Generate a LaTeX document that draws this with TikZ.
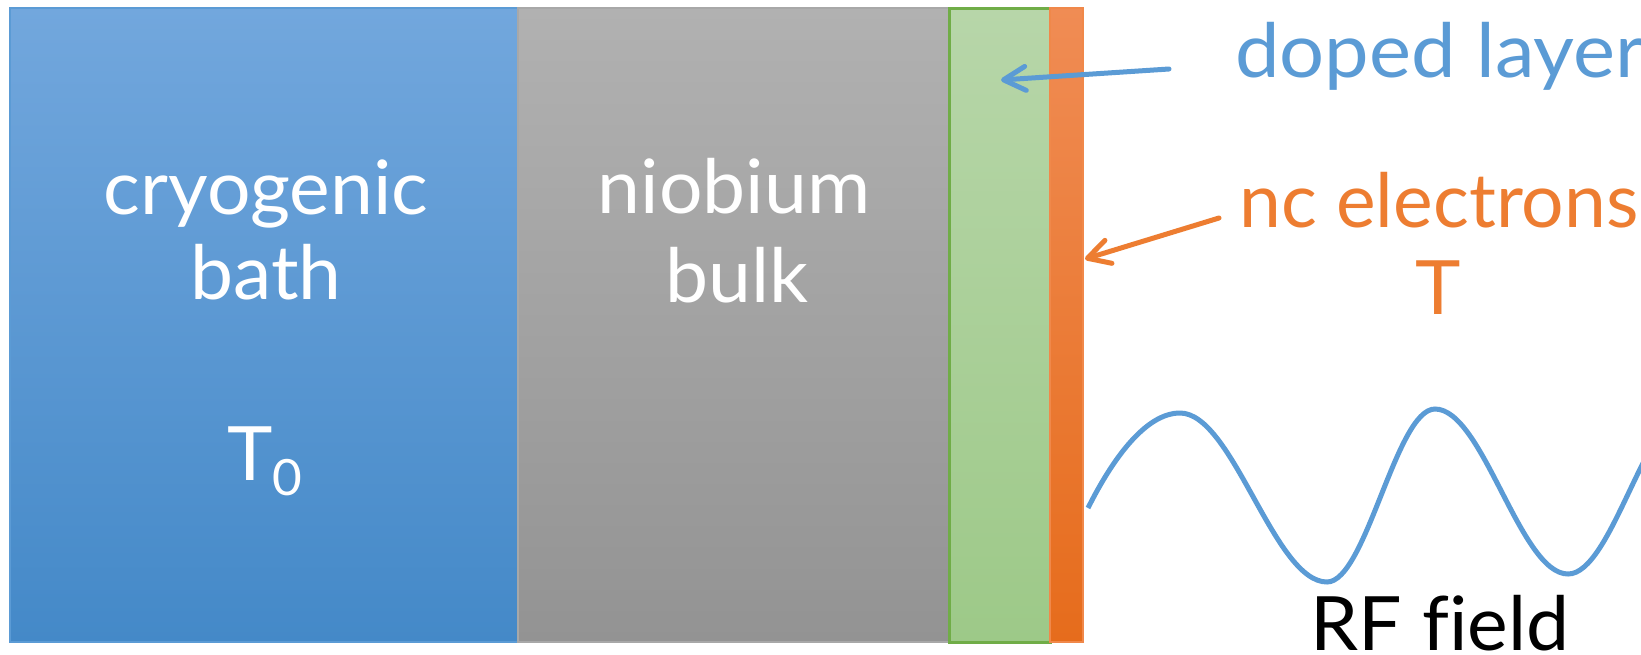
\documentclass[tikz,border=0pt]{standalone}
\usepackage{fontspec}
\setmainfont[Ligatures=NoCommon, FakeStretch=1.025]{Lato}
\newfontfamily\widelato[Ligatures=NoCommon, FakeStretch=1.06]{Lato}
\newfontfamily\plainlato[Ligatures=NoCommon]{Lato}
\usetikzlibrary{arrows.meta}

\definecolor{accblue}{HTML}{5B9BD5}
\definecolor{accorange}{HTML}{ED7D31}
\definecolor{bathtop}{RGB}{114,167,221}
\definecolor{bathbot}{RGB}{68,137,200}
\definecolor{bathedge}{RGB}{91,155,213}
\definecolor{bulktop}{RGB}{177,177,177}
\definecolor{bulkbot}{RGB}{147,147,147}
\definecolor{bulkedge}{RGB}{168,168,168}
\definecolor{dopedtop}{RGB}{183,214,169}
\definecolor{dopedbot}{RGB}{157,201,136}
\definecolor{dopededge}{RGB}{112,173,71}
\definecolor{nctop}{RGB}{240,140,84}
\definecolor{ncbot}{RGB}{230,108,28}
\definecolor{ncedge}{RGB}{240,136,74}

\begin{document}
\begin{tikzpicture}[x=1pt,y=-1pt,
  lbl/.style={inner sep=0pt, anchor=base, font=\fontsize{75}{86}\selectfont},
  layerbox/.style={line width=2pt},
  ptr/.style={line width=5pt, line cap=round, line join=round,
    -{Straight Barb[length=22pt,width=24pt,line cap=round,line join=round]}},
  wave/.style={accblue, line width=5pt, line cap=butt}
]
\clip (0,0) rectangle (1641,654);
\fill[white] (0,0) rectangle (1641,654);

% the four layers, from the helium bath to the surface
\path[layerbox, top color=bathtop, bottom color=bathbot, draw=bathedge] (10,8) rectangle (518,642);
\path[layerbox, top color=bulktop, bottom color=bulkbot, draw=bulkedge] (518,8) rectangle (949,642);
\path[layerbox, top color=dopedtop, bottom color=dopedbot, draw=dopededge, line width=3pt] (949,8) rectangle (1050,642);
\path[layerbox, top color=nctop, bottom color=ncbot, draw=ncedge] (1050,8) rectangle (1083,642);

% labels inside the layers
\node[lbl, white] (cryo) at (266,214) {cryogenic};
\node[lbl, white] (bath) at (266,299) {bath};
\node[lbl, white] (tzero) at (265,480) {T\raisebox{-15pt}{\fontsize{50}{60}\selectfont 0}};
\node[lbl, white] (niob) at (734,213) {niobium};
\node[lbl, white] (bulk) at (737,302) {bulk};

% labels on the right
\node[lbl, accblue, anchor=base west] (doped) at (1235,77) {\widelato doped layer};
\node[lbl, accorange] (ncel) at (1439,227) {\plainlato nc electrons};
\node[lbl, accorange] (ncT) at (1438,314) {T};
\node[lbl, black] (rf) at (1440,650) {RF field};

% pointers
\coordinate (dopedtail) at (1169,69);
\coordinate (dopedtip) at (1001,80);
\coordinate (nctail) at (1219,218);
\coordinate (nctip) at (1085,259);
\draw[ptr, accblue] (dopedtail) -- (dopedtip);
\draw[ptr, accorange] (nctail) -- (nctip);

% incoming RF wave
\coordinate (wstart) at (1088,508);
\draw[wave] (wstart) .. controls (1113,458) and (1146,413) .. (1180,413)
  .. controls (1233,413) and (1274,582) .. (1327,582)
  .. controls (1366,582) and (1396,409) .. (1435,409)
  .. controls (1483,409) and (1520,574) .. (1568,574)
  .. controls (1612,574) and (1646,410) .. (1690,410);
\end{tikzpicture}
\end{document}
